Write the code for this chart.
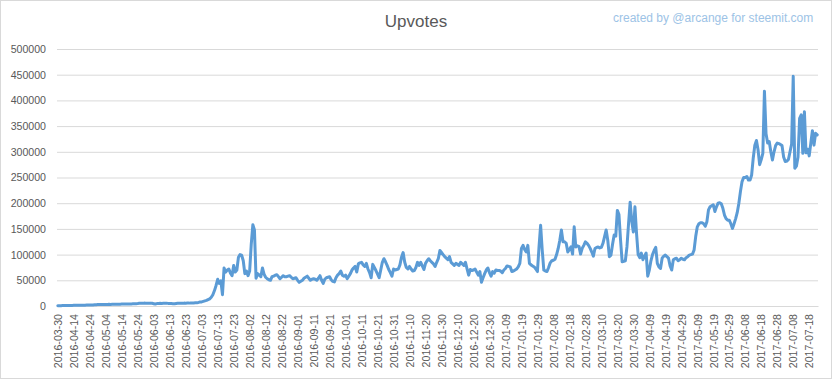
<!DOCTYPE html>
<html>
<head>
<meta charset="utf-8">
<script src="https://cdn.jsdelivr.net/npm/d3@7"></script>
<style>
  html, body { margin: 0; padding: 0; background: #fff; }
  #chart { width: 832px; height: 379px; }
  text { font-family: "Liberation Sans", Arial, sans-serif; }
</style>
</head>
<body>
<div id="chart"></div>
<script>
// first category, then daily from 2016-04-05 (the source skips a few days at the start)
const firstDate = "2016-03-30";
const dailyStart = "2016-04-05";
const dailyEnd = "2017-07-24"; // exclusive

// daily upvotes (rows of 10 days)
const upvotes = [
  500, 600, 700, 800, 900, 1000, 1000, 1100, 1200, 1200,
  1300, 1300, 1400, 1500, 1500, 1600, 1600, 1700, 1800, 1800,
  1900, 2000, 2100, 2400, 2600, 2700, 2800, 2900, 2800, 3000,
  3000, 3100, 3200, 3100, 3300, 3400, 3300, 3500, 3600, 3500,
  3700, 3800, 3700, 3800, 3900, 4000, 4100, 4200, 4300, 4500,
  4800, 5200, 5500, 5400, 5600, 5500, 5300, 5400, 5600, 5200,
  4500, 3800, 4700, 5000, 5200, 5100, 5300, 5200, 5400, 5100,
  5000, 4800, 4600, 4200, 4900, 5300, 5500, 5200, 5400, 5600,
  5500, 5700, 5600, 5800, 6000, 5900, 6200, 6500, 7000, 7800,
  8000, 9000, 10000, 11000, 12500, 14000, 17000, 22000, 30000, 40000,
  52000, 44000, 49000, 22000, 74000, 66000, 70000, 72000, 64000, 59000,
  79000, 66000, 70000, 95000, 100000, 99000, 88000, 63000, 68000, 59000,
  68000, 120000, 158000, 148000, 54000, 63000, 60000, 57000, 74000, 62000,
  56000, 53000, 51000, 50000, 57000, 58000, 60000, 61000, 57000, 53000,
  56000, 59000, 57000, 57000, 58000, 59000, 56000, 53000, 54000, 55000,
  50000, 46000, 48000, 50000, 54000, 56000, 58000, 54000, 50000, 52000,
  53000, 52000, 50000, 54000, 59000, 50000, 44000, 52000, 55000, 56000,
  57000, 51000, 48000, 47000, 55000, 60000, 63000, 68000, 60000, 58000,
  60000, 53000, 58000, 63000, 70000, 74000, 77000, 66000, 82000, 84000,
  85000, 80000, 77000, 83000, 72000, 65000, 55000, 81000, 75000, 69000,
  62000, 55000, 70000, 85000, 92000, 86000, 79000, 71000, 65000, 58000,
  72000, 70000, 71000, 72000, 80000, 95000, 104000, 85000, 75000, 72000,
  77000, 72000, 68000, 69000, 75000, 85000, 79000, 85000, 78000, 71000,
  83000, 88000, 92000, 88000, 85000, 82000, 77000, 85000, 92000, 108000,
  104000, 100000, 96000, 93000, 90000, 96000, 85000, 82000, 79000, 83000,
  81000, 79000, 85000, 82000, 79000, 85000, 72000, 60000, 71000, 69000,
  70000, 72000, 66000, 60000, 67000, 46000, 55000, 63000, 70000, 74000,
  65000, 58000, 67000, 64000, 70000, 69000, 69000, 68000, 65000, 70000,
  73000, 78000, 77000, 76000, 67000, 68000, 70000, 72000, 76000, 83000,
  112000, 118000, 110000, 105000, 118000, 83000, 80000, 78000, 76000, 72000,
  67000, 115000, 157000, 109000, 70000, 68000, 67000, 75000, 84000, 88000,
  89000, 91000, 100000, 112000, 128000, 148000, 125000, 125000, 122000, 105000,
  110000, 115000, 101000, 154000, 115000, 117000, 116000, 101000, 112000, 118000,
  125000, 122000, 118000, 112000, 105000, 97000, 112000, 114000, 115000, 113000,
  114000, 122000, 135000, 148000, 128000, 96000, 99000, 120000, 138000, 136000,
  186000, 178000, 128000, 86000, 87000, 88000, 115000, 160000, 202000, 165000,
  144000, 193000, 141000, 100000, 94000, 103000, 90000, 97000, 103000, 58000,
  70000, 88000, 100000, 108000, 114000, 83000, 76000, 73000, 93000, 97000,
  99000, 96000, 93000, 78000, 70000, 90000, 92000, 93000, 88000, 90000,
  93000, 91000, 90000, 94000, 96000, 99000, 100000, 101000, 109000, 135000,
  154000, 160000, 162000, 162000, 160000, 155000, 164000, 187000, 193000, 195000,
  197000, 184000, 193000, 200000, 201000, 199000, 190000, 177000, 170000, 167000,
  167000, 160000, 151000, 160000, 170000, 182000, 200000, 223000, 242000, 250000,
  250000, 252000, 245000, 245000, 255000, 288000, 313000, 322000, 304000, 275000,
  285000, 297000, 418000, 335000, 317000, 320000, 300000, 284000, 300000, 312000,
  317000, 316000, 314000, 312000, 290000, 281000, 282000, 285000, 300000, 315000,
  447000, 268000, 272000, 290000, 365000, 372000, 297000, 378000, 298000, 305000,
  292000, 317000, 341000, 313000, 336000, 333000
];

const yTicks = [0, 50000, 100000, 150000, 200000, 250000, 300000, 350000, 400000, 450000, 500000];
const labelEvery = 10;

const chartTitle = "Upvotes";
const credit = "created by @arcange for steemit.com";

const parse = d3.timeParse("%Y-%m-%d");
const fmt = d3.timeFormat("%Y-%m-%d");
const dates = [firstDate].concat(
  d3.timeDay.range(parse(dailyStart), parse(dailyEnd)).map(fmt)
);
console.log("dates:", dates.length, "values:", upvotes.length);

const data = upvotes.map((v, i) => ({ date: dates[i], value: v }));

const width = 832;
const height = 379;
const margin = { left: 57, right: 14, top: 49, bottom: 73 };

const svg = d3
  .select("#chart")
  .append("svg")
  .attr("width", width)
  .attr("height", height);

// chart area border
svg
  .append("rect")
  .attr("x", 0.5)
  .attr("y", 0.5)
  .attr("width", width - 1)
  .attr("height", height - 1)
  .attr("fill", "#fff")
  .attr("stroke", "#d9d9d9");

// scales
const x = d3
  .scaleLinear()
  .domain([-0.5, data.length - 0.5])
  .range([margin.left, width - margin.right]);

const y = d3
  .scaleLinear()
  .domain([0, 500000])
  .range([height - margin.bottom, margin.top]);

// gridlines + y labels
const yAxis = d3
  .axisLeft(y)
  .tickValues(yTicks)
  .tickSize(-(width - margin.left - margin.right))
  .tickPadding(11)
  .tickFormat(d3.format("d"));

const gy = svg
  .append("g")
  .attr("transform", `translate(${margin.left},0)`)
  .call(yAxis);
gy.select(".domain").remove();
gy.selectAll(".tick line").attr("stroke", "#d9d9d9");
gy.selectAll(".tick text")
  .attr("fill", "#595959")
  .style("font-size", "10.6px");

// x labels, every 10th category, rotated
const labelIdx = d3.range(0, data.length, labelEvery);
const gx = svg
  .append("g")
  .attr("transform", `translate(0,${height - margin.bottom})`)
  .call(
    d3
      .axisBottom(x)
      .tickValues(labelIdx)
      .tickSize(0)
      .tickFormat((i) => dates[i])
  );
gx.select(".domain").attr("stroke", "#d9d9d9");
gx.selectAll(".tick text")
  .attr("fill", "#595959")
  .style("font-size", "10.6px")
  .attr("text-anchor", "end")
  .attr("transform", "rotate(-90)")
  .attr("x", -8)
  .attr("y", 0)
  .attr("dy", "0.35em");

// the line
const line = d3
  .line()
  .x((d, i) => x(i))
  .y((d) => y(d.value));

svg
  .append("path")
  .datum(data)
  .attr("fill", "none")
  .attr("stroke", "#5b9bd5")
  .attr("stroke-width", 3)
  .attr("stroke-linejoin", "round")
  .attr("stroke-linecap", "round")
  .attr("d", line);

// title
svg
  .append("text")
  .attr("x", 416)
  .attr("y", 27)
  .attr("text-anchor", "middle")
  .attr("fill", "#595959")
  .style("font-size", "17px")
  .text(chartTitle);

// credit
svg
  .append("text")
  .attr("x", 613)
  .attr("y", 22)
  .attr("fill", "#9dc3e6")
  .style("font-size", "12px")
  .text(credit);
</script>
</body>
</html>
